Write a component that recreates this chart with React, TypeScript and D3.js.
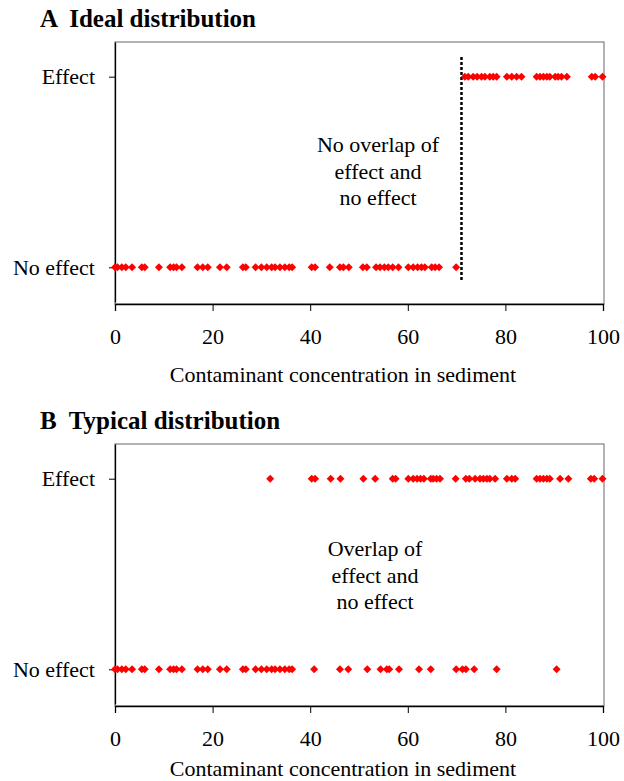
import React, { useEffect, useRef } from 'react';
import * as d3 from 'd3';

const categories = ['Effect', 'No effect'];
const xTicks = [0, 20, 40, 60, 80, 100];

// Panel A: ideal distribution
const idealNoEffect = [
  0, 0.5, 1.4, 2.2, 3.5, 5.5, 6.1, 9.0, 11.3, 12.0, 12.6, 13.7, 16.9, 18.0, 19.0,
  21.5, 22.9, 26.2, 26.8, 28.8, 30.0, 31.1, 32.1, 32.8, 33.8, 34.8, 35.7, 36.3,
  40.3, 41.0, 44.0, 46.1, 46.8, 47.9, 50.8, 51.6, 53.5, 54.3, 55.2, 56.0, 56.9,
  58.1, 60.1, 61.1, 62.0, 62.8, 63.5, 64.9, 65.6, 66.4, 69.9,
];
const idealEffect = [
  71.7, 72.4, 73.4, 74.2, 75.1, 75.8, 76.8, 77.5, 78.2, 80.3, 81.3, 82.3, 83.3,
  86.4, 87.1, 87.8, 88.5, 89.1, 90.2, 90.8, 91.5, 92.6, 97.7, 98.4, 99.9,
];
const threshold = 71;

// Panel B: typical distribution
const typicalNoEffect = [
  0, 0.5, 1.4, 2.2, 3.5, 5.5, 6.1, 9.0, 11.3, 12.0, 12.6, 13.7, 16.9, 18.0, 19.0,
  21.5, 22.9, 26.2, 26.8, 28.8, 30.0, 31.1, 32.1, 32.8, 33.8, 34.8, 35.7, 36.3,
  40.8, 46.1, 47.8, 51.7, 54.4, 55.7, 56.2, 58.2, 62.3, 64.7, 69.9, 71.2, 71.9,
  73.6, 78.2, 90.5,
];
const typicalEffect = [
  31.8, 40.3, 41.0, 44.2, 46.2, 50.9, 53.3, 56.9, 57.5, 60.1, 61.1, 61.9, 62.6,
  63.3, 64.7, 65.2, 65.9, 66.6, 69.8, 71.9, 72.6, 73.8, 74.8, 75.5, 76.2, 76.8,
  77.9, 80.3, 81.3, 82.0, 86.4, 87.1, 87.8, 88.5, 89.1, 91.2, 92.9, 97.5, 98.2, 99.9,
];

const FONT = '"Liberation Serif", "Times New Roman", serif';

const App: React.FC = () => {
  const svgRef = useRef<SVGSVGElement>(null);

  useEffect(() => {
    if (!svgRef.current) return;
    const svg = d3.select(svgRef.current);
    svg.selectAll('*').remove();

    const left = 115;
    const right = 604;

    const x = d3.scaleLinear().domain([0, 100]).range([left, 603]);
    const diamond = d3.symbol(d3.symbolSquare, 32);

    const drawPanel = (
      top: number,
      title: string,
      noEffect: number[],
      effect: number[],
      note: string[],
      noteY: number,
      labelGap: number,
      showThreshold: boolean
    ) => {
      const bottom = top + 262;
      const y = d3.scalePoint<string>().domain(categories).range([top, bottom - 2]).padding(0.182);
      const g = svg.append('g').style('font-family', FONT);

      g.append('text')
        .attr('x', 40)
        .attr('y', top - 15)
        .attr('xml:space', 'preserve')
        .style('white-space', 'pre')
        .style('font-size', '25px')
        .style('font-weight', 'bold')
        .text(title);

      // plot area border
      g.append('rect')
        .attr('x', left)
        .attr('y', top)
        .attr('width', right - left)
        .attr('height', bottom - top)
        .attr('fill', 'none')
        .attr('stroke', '#808080')
        .attr('stroke-width', 1.2);

      // x axis
      const xAxis = g.append('g')
        .attr('transform', `translate(0,${bottom})`)
        .call(d3.axisBottom(x).tickValues(xTicks).tickSize(7).tickPadding(17).tickFormat(d3.format('d')));
      xAxis.select('.domain').attr('stroke', '#000').attr('stroke-width', 1.3);
      xAxis.selectAll('text').style('font-family', FONT).style('font-size', '22px').attr('fill', '#000');

      // y axis
      const yAxis = g.append('g')
        .attr('transform', `translate(${left},0)`)
        .call(d3.axisLeft(y).tickSize(6).tickSizeOuter(0).tickPadding(14));
      yAxis.select('.domain').attr('stroke', '#000').attr('stroke-width', 1.3);
      yAxis.selectAll('text').style('font-family', FONT).style('font-size', '22px').attr('fill', '#000');

      g.append('text')
        .attr('x', (left + 603) / 2 - 16)
        .attr('y', bottom + labelGap)
        .attr('text-anchor', 'middle')
        .style('font-size', '22px')
        .text('Contaminant concentration in sediment');

      if (showThreshold) {
        g.append('line')
          .attr('x1', x(threshold))
          .attr('x2', x(threshold))
          .attr('y1', top + 15)
          .attr('y2', bottom - 22)
          .attr('stroke', '#000')
          .attr('stroke-width', 2.5)
          .attr('stroke-dasharray', '3,2');
      }

      g.append('text')
        .attr('text-anchor', 'middle')
        .style('font-size', '22px')
        .selectAll('tspan')
        .data(note)
        .enter()
        .append('tspan')
        .attr('x', showThreshold ? 378 : 375)
        .attr('y', (_, i) => noteY + i * 26.5)
        .text(d => d);

      const pts = [
        ...noEffect.map(v => ({ v, c: 'No effect' })),
        ...effect.map(v => ({ v, c: 'Effect' })),
      ];
      g.selectAll('.pt')
        .data(pts)
        .enter()
        .append('path')
        .attr('class', 'pt')
        .attr('d', diamond)
        .attr('transform', d => `translate(${x(d.v)},${y(d.c)}) rotate(45)`)
        .attr('fill', '#ff0000');
    };

    drawPanel(42, 'A  Ideal distribution', idealNoEffect, idealEffect,
      ['No overlap of', 'effect and', 'no effect'], 152, 78, true);
    drawPanel(444, 'B  Typical distribution', typicalNoEffect, typicalEffect,
      ['Overlap of', 'effect and', 'no effect'], 556, 70, false);
  }, []);

  return (
    <div style={{ position: 'absolute', left: 0, top: 0 }}>
      <svg ref={svgRef} width={624} height={781} style={{ display: 'block', background: '#fff' }} />
    </div>
  );
};

export default App;
